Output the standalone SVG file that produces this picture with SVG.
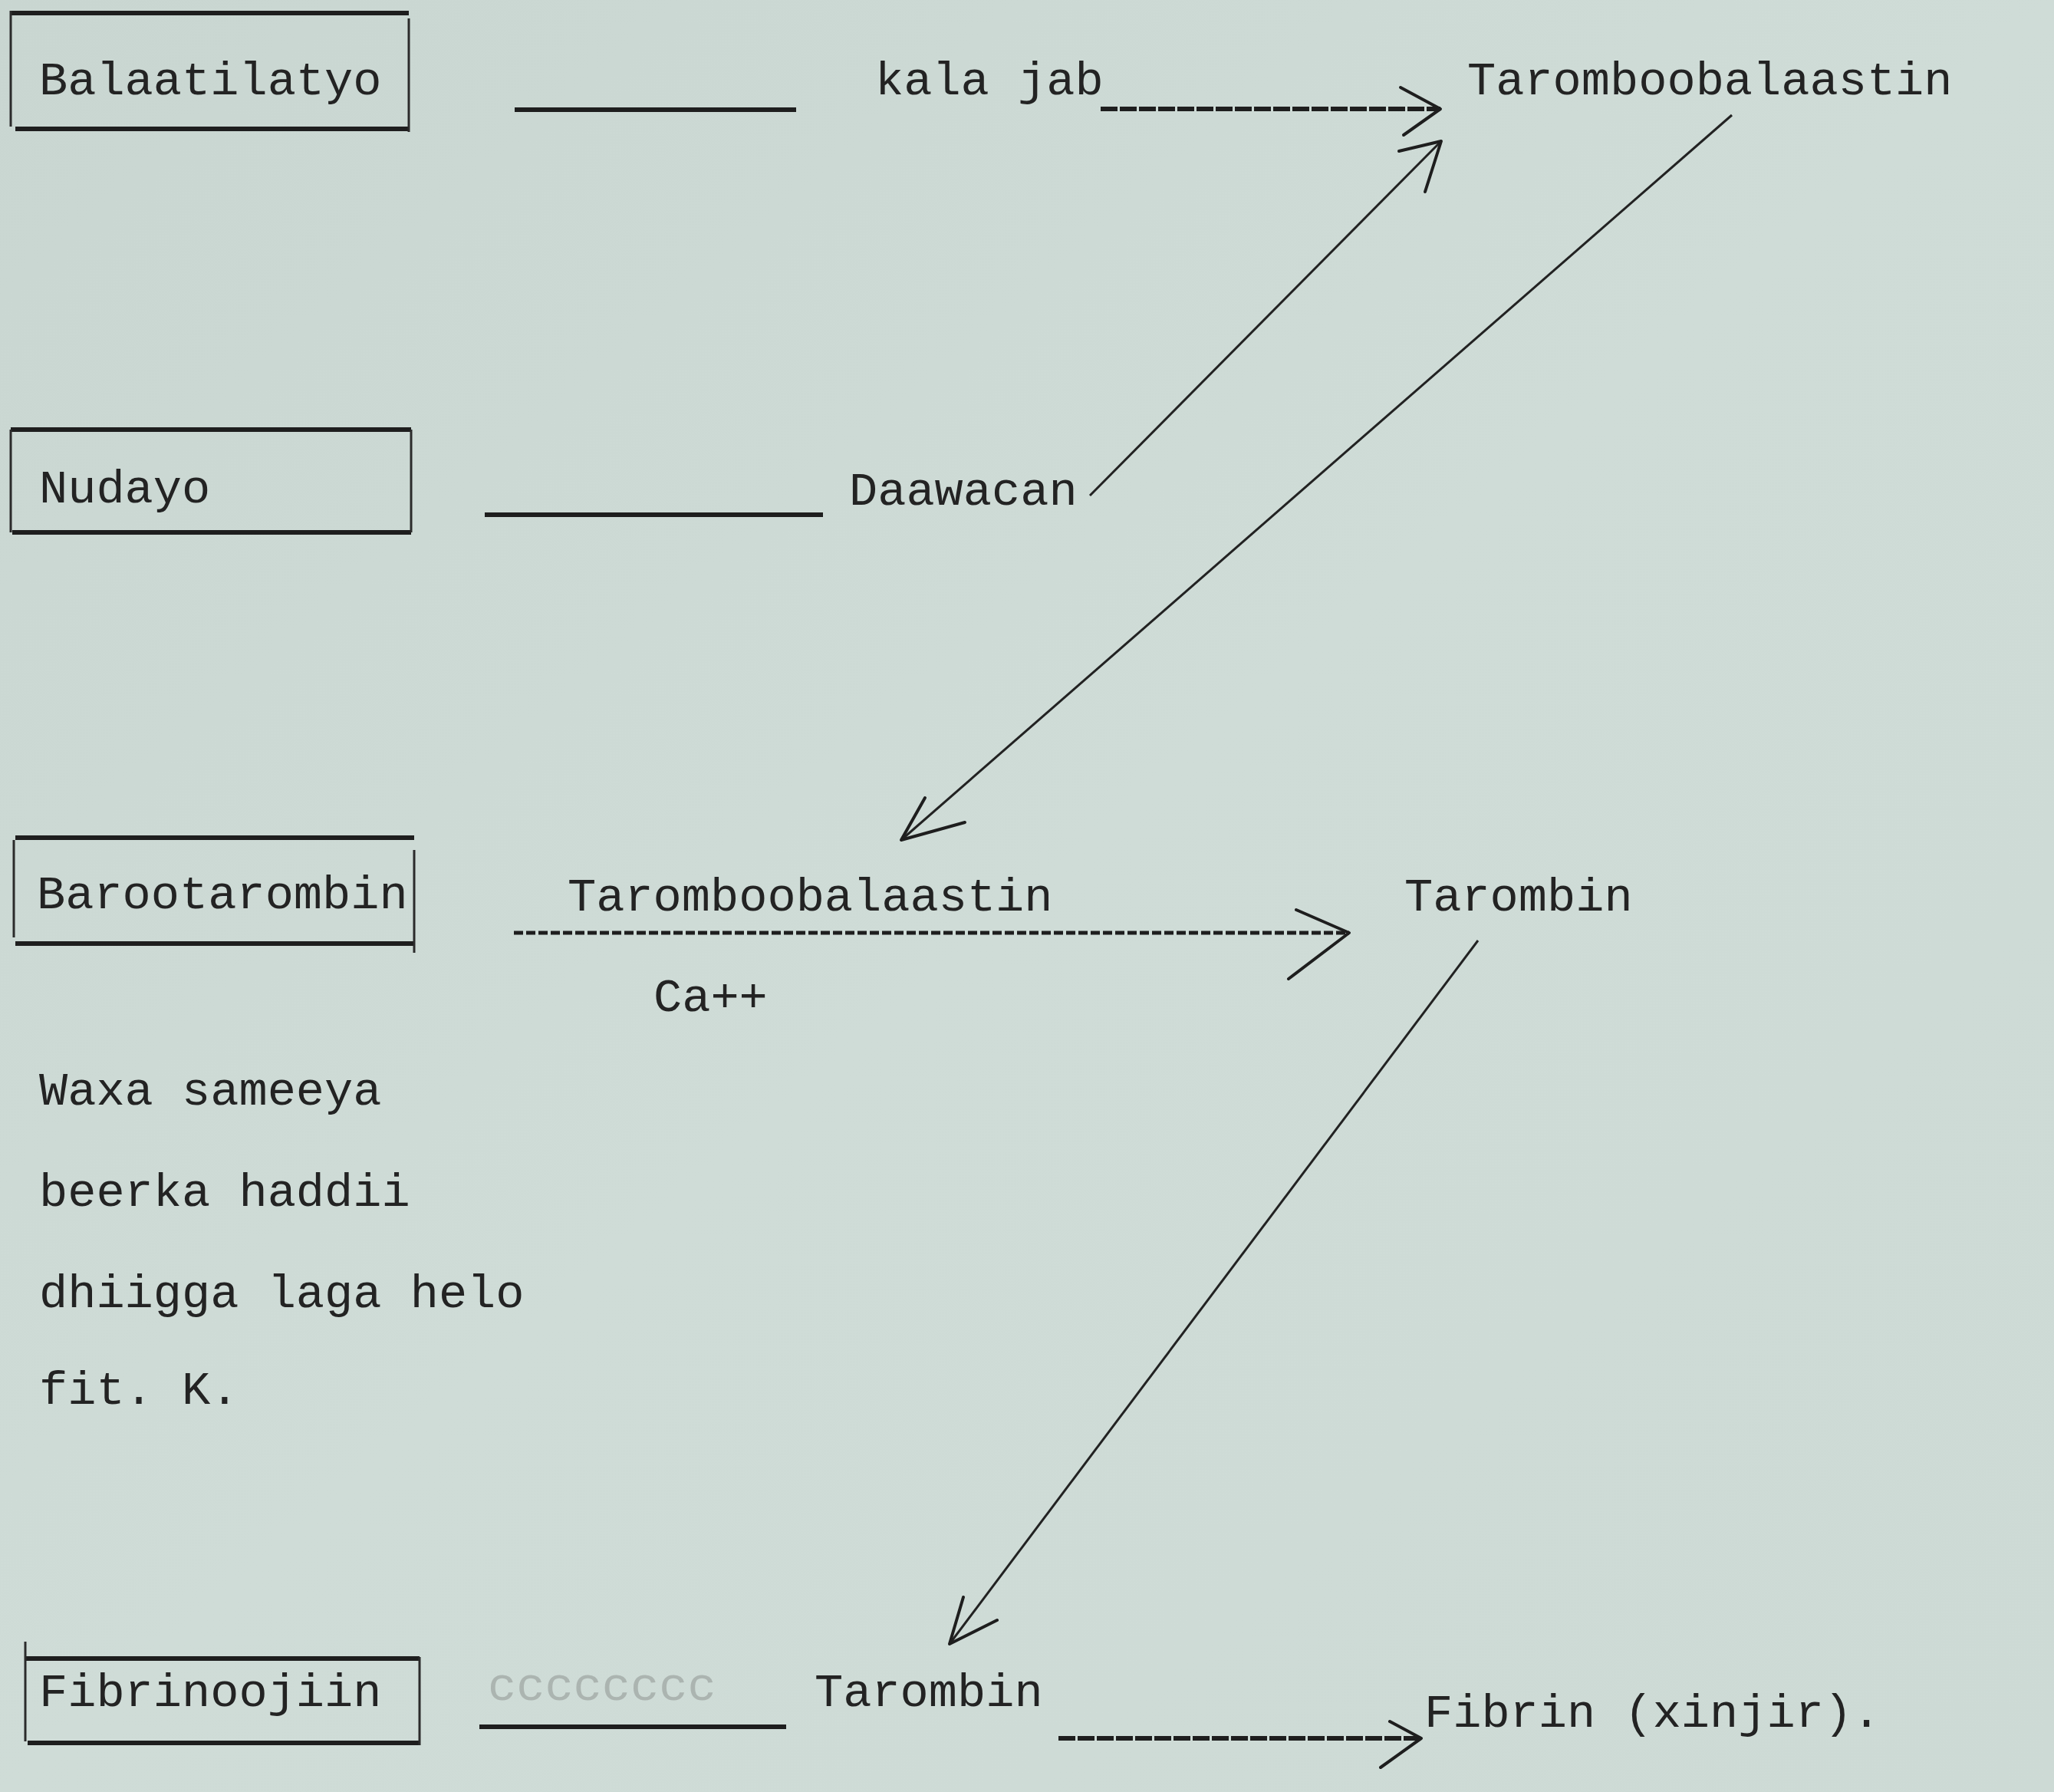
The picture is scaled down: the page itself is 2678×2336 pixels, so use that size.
<svg xmlns="http://www.w3.org/2000/svg" width="2678" height="2336" viewBox="0 0 2678 2336">
<defs>
<linearGradient id="paper" x1="0" y1="0" x2="1" y2="1">
<stop offset="0" stop-color="#c9d6d1"/>
<stop offset="0.5" stop-color="#cfdcd7"/>
<stop offset="1" stop-color="#cddad5"/>
</linearGradient>
</defs>
<style>
text{font-family:"Liberation Mono","DejaVu Sans Mono",monospace;font-size:62px;fill:#232323}
.side{stroke:#2b2b2b;stroke-width:3;fill:none}
.edge{stroke:#1e1e1e;stroke-width:6;fill:none}
.under{stroke:#1e1e1e;stroke-width:6;fill:none}
.dash{stroke:#1e1e1e;stroke-width:6;fill:none;stroke-dasharray:22 3}
.dot{stroke:#1e1e1e;stroke-width:5;fill:none;stroke-dasharray:12 4}
.diag{stroke:#222;stroke-width:3;fill:none}
.head{stroke:#1e1e1e;stroke-width:4;fill:none;stroke-linecap:round;stroke-linejoin:round}
.faint{fill:#8a8f8c;opacity:0.5}
</style>
<rect x="0" y="0" width="2678" height="2336" fill="url(#paper)"/>

<g id="node-balaatilatyo">
<line class="edge" x1="14" y1="17" x2="533" y2="17"/>
<line class="edge" x1="20" y1="168" x2="533" y2="168"/>
<line class="side" x1="14" y1="14" x2="14" y2="165"/>
<line class="side" x1="533" y1="24" x2="533" y2="172"/>
<text x="51" y="123">Balaatilatyo</text>
</g>

<g id="node-kala-jab">
<text x="1141" y="123">kala jab</text>
</g>

<g id="node-taromboobalaastin-top">
<text x="1913" y="123">Taromboobalaastin</text>
</g>

<g id="node-nudayo">
<line class="edge" x1="14" y1="560" x2="536" y2="560"/>
<line class="edge" x1="16" y1="694" x2="536" y2="694"/>
<line class="side" x1="14" y1="560" x2="14" y2="694"/>
<line class="side" x1="536" y1="560" x2="536" y2="694"/>
<text x="51" y="655">Nudayo</text>
</g>

<g id="node-daawacan">
<text x="1107" y="658">Daawacan</text>
</g>

<g id="node-barootarombin">
<line class="edge" x1="20" y1="1092" x2="540" y2="1092"/>
<line class="edge" x1="20" y1="1230" x2="540" y2="1230"/>
<line class="side" x1="18" y1="1095" x2="18" y2="1222"/>
<line class="side" x1="540" y1="1108" x2="540" y2="1242"/>
<text x="48" y="1184">Barootarombin</text>
</g>

<g id="node-taromboobalaastin-mid">
<text x="740" y="1187">Taromboobalaastin</text>
</g>

<g id="node-ca">
<text x="852" y="1318">Ca++</text>
</g>

<g id="node-tarombin-mid">
<text x="1831" y="1187">Tarombin</text>
</g>

<g id="node-note">
<text x="51" y="1440">Waxa sameeya</text>
<text x="51" y="1572">beerka haddii</text>
<text x="51" y="1704">dhiigga laga helo</text>
<text x="51" y="1830">fit. K.</text>
</g>

<g id="node-fibrinoojiin">
<line class="edge" x1="33" y1="2162" x2="547" y2="2162"/>
<line class="edge" x1="36" y1="2272" x2="547" y2="2272"/>
<line class="side" x1="33" y1="2140" x2="33" y2="2270"/>
<line class="side" x1="547" y1="2160" x2="547" y2="2275"/>
<text x="51" y="2224">Fibrinoojiin</text>
</g>

<g id="node-tarombin-bottom">
<text class="faint" x="636" y="2216">cccccccc</text>
<text x="1062" y="2224">Tarombin</text>
</g>

<g id="node-fibrin">
<text x="1857" y="2251">Fibrin (xinjir).</text>
</g>

<g id="connectors">
<line class="under" x1="671" y1="143" x2="1038" y2="143"/>
<line class="dash" x1="1435" y1="142" x2="1878" y2="142"/>
<polyline class="head" points="1826,114 1878,142 1830,176"/>

<line class="under" x1="632" y1="671" x2="1073" y2="671"/>
<line class="diag" x1="1421" y1="646" x2="1879" y2="184"/>
<polyline class="head" points="1824,197 1879,184 1858,250"/>

<line class="diag" x1="2258" y1="150" x2="1175" y2="1095"/>
<polyline class="head" points="1206,1040 1175,1095 1258,1072"/>

<line class="dot" x1="670" y1="1216" x2="1759" y2="1216"/>
<polyline class="head" points="1690,1186 1759,1216 1680,1276"/>

<line class="diag" x1="1927" y1="1226" x2="1238" y2="2143"/>
<polyline class="head" points="1256,2082 1238,2143 1300,2112"/>

<line class="under" x1="625" y1="2251" x2="1025" y2="2251"/>
<line class="dash" x1="1380" y1="2266" x2="1853" y2="2266"/>
<polyline class="head" points="1812,2244 1853,2266 1800,2304"/>
</g>
</svg>
